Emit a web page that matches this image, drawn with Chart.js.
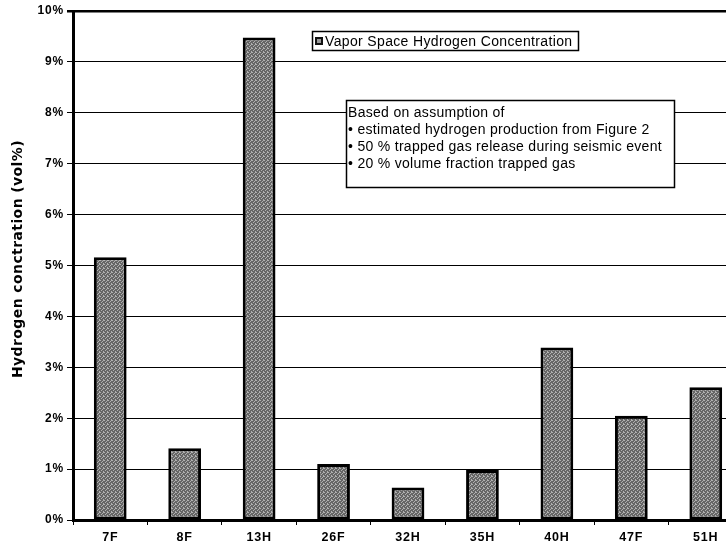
<!DOCTYPE html>
<html>
<head>
<meta charset="utf-8">
<script src="https://cdn.jsdelivr.net/npm/chart.js@4.4.1/dist/chart.umd.min.js"></script>
<style>
html,body{margin:0;padding:0;background:#fff;overflow:hidden;width:726px;height:550px;}
#wrap{position:absolute;left:0;top:0;width:760px;height:550px;}
</style>
</head>
<body>
<div id="wrap"><canvas id="c" width="760" height="550"></canvas></div>
<script>
const categories = ['7F','8F','13H','26F','32H','35H','40H','47F','51H'];
const hydrogenPct = [5.16, 1.41, 9.48, 1.10, 0.64, 0.98, 3.39, 2.05, 2.61];
const yTicks = [0,1,2,3,4,5,6,7,8,9,10];
const seriesLabel = 'Vapor Space Hydrogen Concentration';
const yTitle = 'Hydrogen conctration (vol%)';
const noteLines = [
  'Based on assumption of',
  '\u2022 estimated hydrogen production from Figure 2',
  '\u2022 50 % trapped gas release during seismic event',
  '\u2022 20 % volume fraction trapped gas'
];

// stipple texture for the bars
function stipple() {
  const p = document.createElement('canvas');
  p.width = 4; p.height = 4;
  const g = p.getContext('2d');
  g.fillStyle = '#666666'; g.fillRect(0, 0, 4, 4);
  g.fillStyle = '#b0b0b0';
  [[0,0],[2,1],[1,2],[3,3],[3,0]].forEach(([x,y]) => g.fillRect(x, y, 1, 1));
  return g.createPattern(p, 'repeat');
}

const spacingPlugin = {
  id: 'spacing',
  beforeDraw(chart) { chart.ctx.letterSpacing = '0.8px'; }
};

const boxesPlugin = {
  id: 'boxes',
  afterDraw(chart) {
    const ctx = chart.ctx;
    ctx.save();
    // y axis title
    ctx.save();
    ctx.translate(18, 259);
    ctx.rotate(-Math.PI / 2);
    ctx.letterSpacing = '0.4px';
    ctx.font = 'bold 14px "DejaVu Sans", sans-serif';
    ctx.fillStyle = '#000';
    ctx.textAlign = 'center';
    ctx.textBaseline = 'middle';
    ctx.fillText(yTitle, 0, 0);
    ctx.restore();
    // legend box
    ctx.fillStyle = '#fff';
    ctx.fillRect(312, 31, 266, 19);
    ctx.strokeStyle = '#000';
    ctx.lineWidth = 1.5;
    ctx.strokeRect(312.5, 31.5, 266, 19);
    ctx.fillStyle = '#111';
    ctx.fillRect(315, 37, 8, 8);
    ctx.fillStyle = '#999';
    ctx.fillRect(317, 39, 4, 4);
    ctx.fillStyle = '#000';
    ctx.letterSpacing = '0.35px';
    ctx.font = '14px "Liberation Sans", Arial, sans-serif';
    ctx.textBaseline = 'alphabetic';
    ctx.textAlign = 'left';
    ctx.fillText(seriesLabel, 325, 46);
    // note box
    ctx.fillStyle = '#fff';
    ctx.fillRect(346, 100, 328, 87);
    ctx.strokeRect(346.5, 100.5, 328, 87);
    ctx.fillStyle = '#000';
    ctx.letterSpacing = '0.3px';
    ctx.font = '14px "Liberation Sans", Arial, sans-serif';
    noteLines.forEach((t, i) => ctx.fillText(t, 348, 117 + i * 17));
    ctx.restore();
  }
};

new Chart(document.getElementById('c'), {
  type: 'bar',
  data: {
    labels: categories,
    datasets: [{
      label: seriesLabel,
      data: hydrogenPct,
      backgroundColor: stipple(),
      borderColor: '#000',
      borderWidth: 3,
      borderSkipped: false,
      categoryPercentage: 1,
      barPercentage: 0.44
    }]
  },
  options: {
    responsive: false,
    animation: false,
    devicePixelRatio: 1,
    layout: { padding: { top: 11, right: 17, left: 0, bottom: 0 } },
    plugins: { legend: { display: false }, tooltip: { enabled: false } },
    scales: {
      x: {
        afterFit(s) { s.height = 30; },
        grid: { offset: true, drawOnChartArea: false, drawTicks: true, tickLength: 5, color: '#000', lineWidth: 1 },
        border: { display: true, color: '#000', width: 3 },
        ticks: { color: '#000', font: { family: '"Liberation Sans", Arial, sans-serif', size: 12.5, weight: 'bold' }, padding: 5 }
      },
      y: {
        min: 0, max: 10,
        afterFit(s) { s.width = 73; },
        afterBuildTicks(s) { s.ticks = yTicks.map(v => ({ value: v })); },
        grid: {
          color: '#000',
          lineWidth: c => (c.tick && c.tick.value === 10 ? 2.5 : 1),
          tickLength: 6
        },
        border: { display: true, color: '#000', width: 3 },
        ticks: {
          color: '#000',
          padding: 3,
          font: { family: '"Liberation Sans", Arial, sans-serif', size: 12, weight: 'bold' },
          callback: v => v + '%'
        },
        title: { display: false }
      }
    }
  },
  plugins: [spacingPlugin, boxesPlugin]
});
</script>
</body>
</html>
